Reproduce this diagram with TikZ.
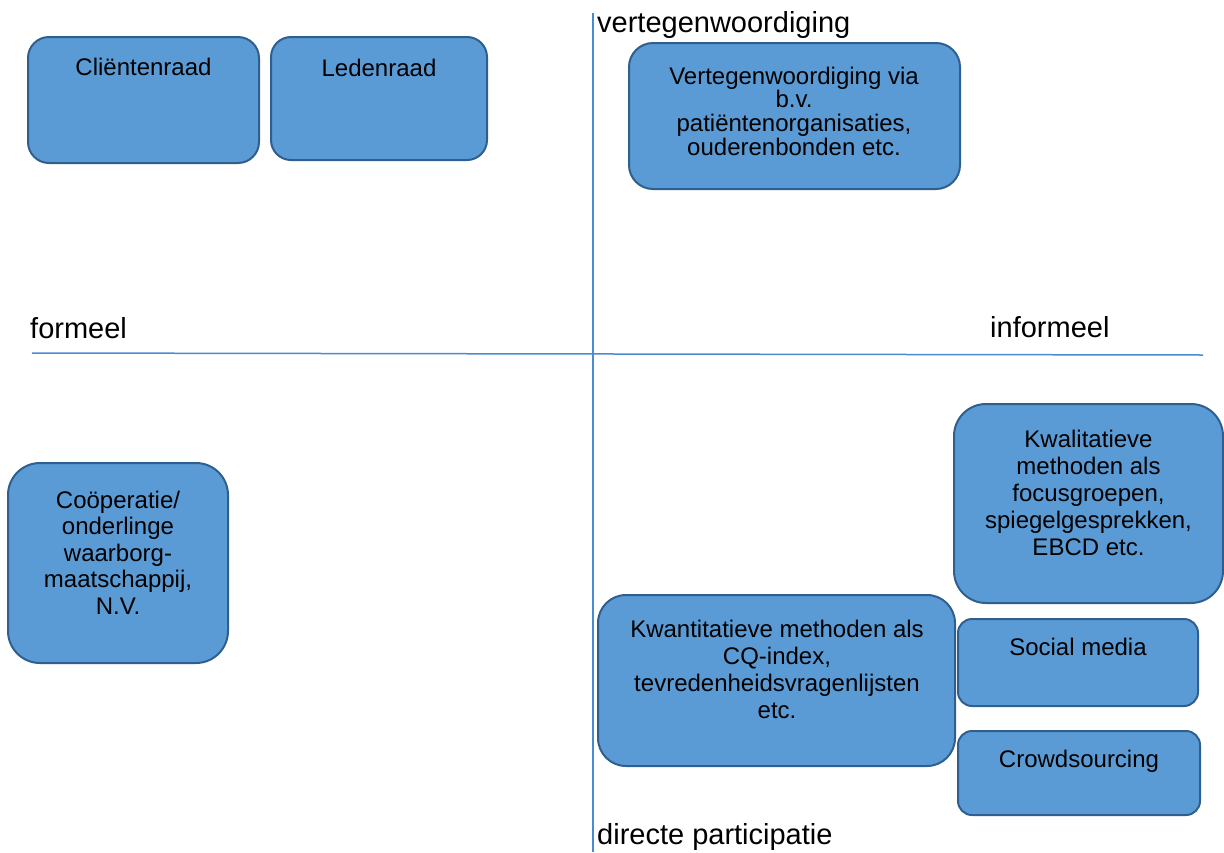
\documentclass[tikz,border=0pt]{standalone}
\usepackage{fontspec}
\setmainfont{Liberation Sans}
\definecolor{boxfill}{HTML}{5B9BD5}
\definecolor{boxline}{HTML}{2F5F8F}
\definecolor{axisline}{HTML}{4A8BD0}
\newcommand\tstrut{\rule{0pt}{19pt}}
\begin{document}
\begin{tikzpicture}[x=1pt,y=-1pt,
  box/.style={draw=boxline, fill=boxfill, line width=2pt, rectangle, inner sep=0pt, rounded corners=#1},
  boxtext/.style={align=center, inner sep=0pt, anchor=north, font=\fontsize{24}{27}\selectfont},
  boxtexttight/.style={align=center, inner sep=0pt, anchor=north, font=\fontsize{24}{23.7}\selectfont},
  axislabel/.style={inner sep=0pt, anchor=base west, font=\fontsize{29}{33}\selectfont},
  axis/.style={draw=axisline, line width=1.2pt}]
\useasboundingbox (0,0) rectangle (1224,852);

% axes
\coordinate (vtop) at (593,13);
\coordinate (vbot) at (593,852);
\coordinate (hleft) at (32,353);
\coordinate (hright) at (1203,355);
\draw[axis] (vtop) -- (vbot);
\draw[axis, line width=1.5pt] (hleft) -- (hright);

% axis labels
\node[axislabel] (lvert) at (597,32) {vertegenwoordiging};
\node[axislabel] (lform) at (30,338) {formeel};
\node[axislabel] (linf) at (990,337) {informeel};
\node[axislabel] (ldir) at (597,844) {directe participatie};

% boxes
\node[box=21pt, minimum width=231pt, minimum height=126pt] (cl) at (143.5,100) {};
\node[boxtext] (clt) at (143.5,75-19) {\tstrut Cliëntenraad};

\node[box=20pt, minimum width=216pt, minimum height=123pt] (led) at (379,98.5) {};
\node[boxtext] (ledt) at (379,76-19) {\tstrut Ledenraad};

\node[box=24pt, minimum width=331pt, minimum height=146pt] (vert) at (794.5,116) {};
\node[boxtexttight] (vertt) at (794,84-19) {\tstrut Vertegenwoordiging via\\ b.v.\\ patiëntenorganisaties,\\ ouderenbonden etc.};

\node[box=32pt, minimum width=220pt, minimum height=200pt] (coop) at (118,563) {};
\node[boxtext, font=\fontsize{24}{26.5}\selectfont] (coopt) at (118,508-19) {\tstrut Coöperatie/\\ onderlinge\\ waarborg-\\ maatschappij,\\ N.V.};

\node[box=32pt, minimum width=269pt, minimum height=199pt] (kwal) at (1088.5,503.5) {};
\node[boxtext] (kwalt) at (1088.5,447-19) {\tstrut Kwalitatieve\\ methoden als\\ focusgroepen,\\ spiegelgesprekken,\\ EBCD etc.};

\node[box=28pt, minimum width=357pt, minimum height=171pt] (kwan) at (776.5,680.5) {};
\node[boxtext] (kwant) at (777,637-19) {\tstrut Kwantitatieve methoden als\\ CQ-index,\\ tevredenheidsvragenlijsten\\ etc.};

\node[box=14pt, minimum width=240pt, minimum height=87pt] (soc) at (1078,662.5) {};
\node[boxtext] (soct) at (1078,655-19) {\tstrut Social media};

\node[box=14pt, minimum width=242pt, minimum height=84pt] (crowd) at (1079,773) {};
\node[boxtext] (crowdt) at (1079,767-19) {\tstrut Crowdsourcing};
\end{tikzpicture}
\end{document}
